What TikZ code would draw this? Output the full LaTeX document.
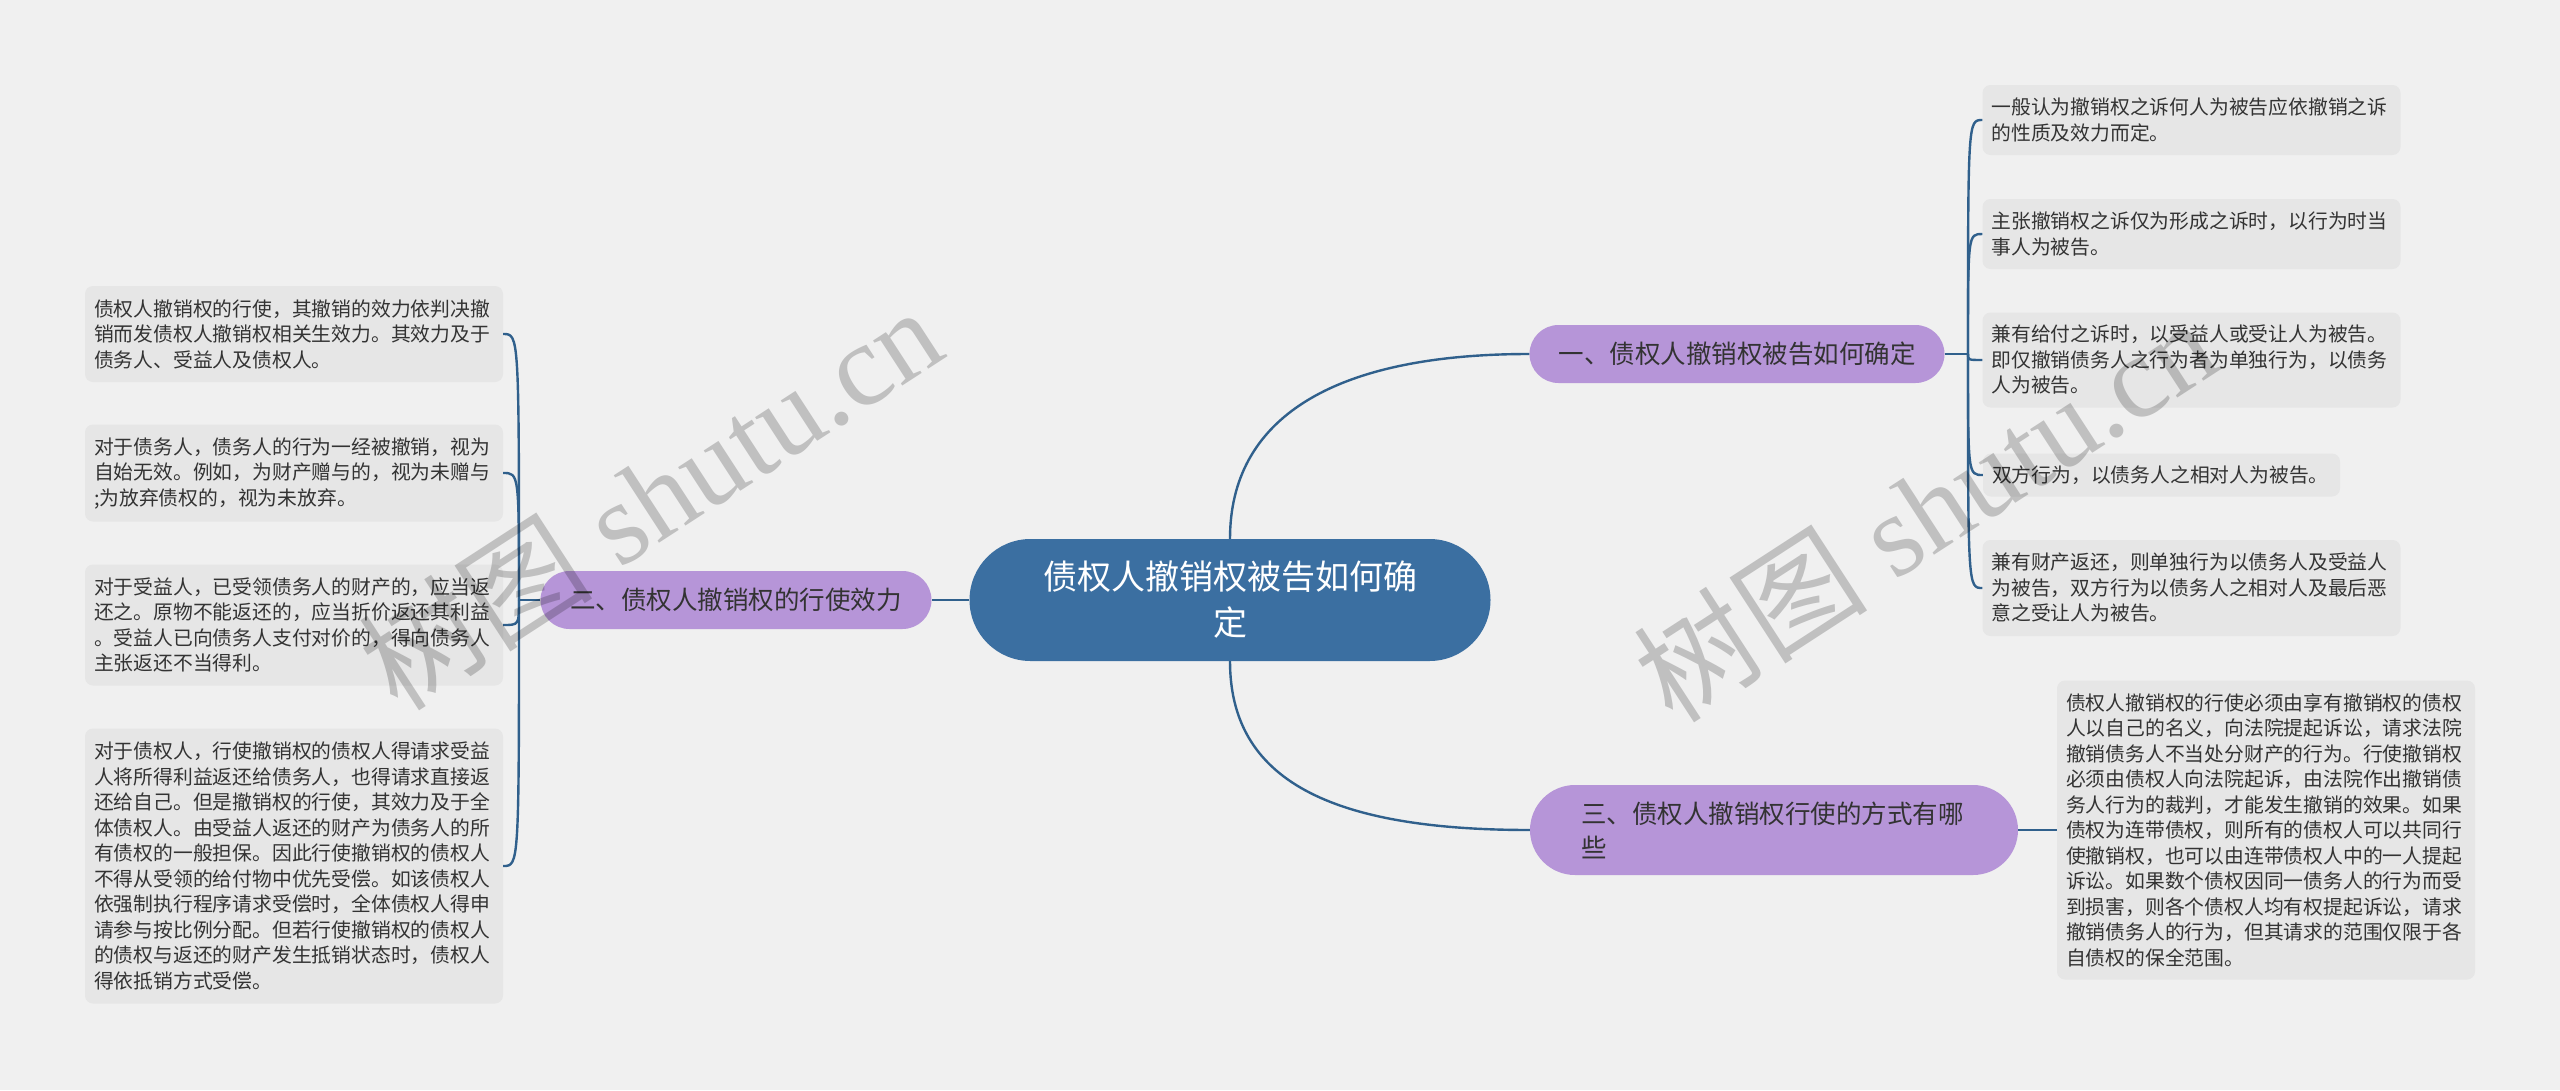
\documentclass[tikz,border=0pt]{standalone}
\usepackage{fontspec}
\newfontfamily\cjk{Noto Sans CJK SC}
\newfontfamily\wmserif{Liberation Serif}
\usetikzlibrary{calc}
\definecolor{bgc}{HTML}{F0F0F0}
\definecolor{rootc}{HTML}{3B6FA1}
\definecolor{branchc}{HTML}{B695D8}
\definecolor{leafc}{HTML}{E6E6E6}
\definecolor{linec}{HTML}{30608C}
\definecolor{txtc}{HTML}{333333}
\tikzset{
  rootbox/.style={fill=rootc, rounded corners=61pt, minimum width=521pt, minimum height=122pt,
    inner sep=0pt, align=center, text=white, font=\cjk\fontsize{34}{46}\selectfont},
  branchbox/.style={fill=branchc, inner sep=0pt, text=txtc, font=\cjk\fontsize{25.5}{34}\selectfont},
  leafbox/.style={fill=leafc, rounded corners=8pt, text width=400pt, align=left, inner xsep=9pt,
    inner ysep=0pt, text=txtc, font=\cjk\fontsize{19.8}{25.5}\selectfont},
  conn/.style={draw=linec, line width=2.4pt},
  wm/.style={text=black, text opacity=0.2, inner sep=0pt, font=\wmserif\fontsize{117}{120}\selectfont}
}
\begin{document}
\begin{tikzpicture}[x=1pt,y=-1pt]
\fill[bgc] (0,0) rectangle (2560,1090);
\useasboundingbox (0,0) rectangle (2560,1090);

% root and branches
\node[rootbox] (root) at (1230,600) {债权人撤销权被告如何确\\定};
\node[branchbox, rounded corners=29pt, minimum width=415pt, minimum height=58pt] (b1) at (1737,354) {一、债权人撤销权被告如何确定};
\node[branchbox, rounded corners=29pt, minimum width=391pt, minimum height=58pt] (b2) at (736,600) {二、债权人撤销权的行使效力};
\node[branchbox, rounded corners=45pt, minimum width=488pt, minimum height=90pt, text width=386pt, align=left] (b3) at (1774,830) {三、债权人撤销权行使的方式有哪\\些};

% right leaves of branch 1
\node[leafbox, minimum height=70pt] (l1) at (2191.5,120) {一般认为撤销权之诉何人为被告应依撤销之诉\\的性质及效力而定。};
\node[leafbox, minimum height=70pt] (l2) at (2191.5,234) {主张撤销权之诉仅为形成之诉时，以行为时当\\事人为被告。};
\node[leafbox, minimum height=95pt] (l3) at (2191.5,360) {兼有给付之诉时，以受益人或受让人为被告。\\即仅撤销债务人之行为者为单独行为，以债务\\人为被告。};
\node[leafbox, text width=339pt, minimum height=43pt] (l4) at (2161.5,475) {双方行为，以债务人之相对人为被告。};
\node[leafbox, minimum height=96pt] (l5) at (2191.5,588) {兼有财产返还，则单独行为以债务人及受益人\\为被告，双方行为以债务人之相对人及最后恶\\意之受让人为被告。};

% leaf of branch 3
\node[leafbox, minimum height=299pt] (l6) at (2266,830) {债权人撤销权的行使必须由享有撤销权的债权\\人以自己的名义，向法院提起诉讼，请求法院\\撤销债务人不当处分财产的行为。行使撤销权\\必须由债权人向法院起诉，由法院作出撤销债\\务人行为的裁判，才能发生撤销的效果。如果\\债权为连带债权，则所有的债权人可以共同行\\使撤销权，也可以由连带债权人中的一人提起\\诉讼。如果数个债权因同一债务人的行为而受\\到损害，则各个债权人均有权提起诉讼，请求\\撤销债务人的行为，但其请求的范围仅限于各\\自债权的保全范围。};

% left leaves of branch 2
\node[leafbox, minimum height=96pt] (ll1) at (294,334) {债权人撤销权的行使，其撤销的效力依判决撤\\销而发债权人撤销权相关生效力。其效力及于\\债务人、受益人及债权人。};
\node[leafbox, minimum height=97pt] (ll2) at (294,473) {对于债务人，债务人的行为一经被撤销，视为\\自始无效。例如，为财产赠与的，视为未赠与\\;为放弃债权的，视为未放弃。};
\node[leafbox, minimum height=121pt] (ll3) at (294,625) {对于受益人，已受领债务人的财产的，应当返\\还之。原物不能返还的，应当折价返还其利益\\。受益人已向债务人支付对价的，得向债务人\\主张返还不当得利。};
\node[leafbox, minimum height=275pt] (ll4) at (294,866) {对于债权人，行使撤销权的债权人得请求受益\\人将所得利益返还给债务人，也得请求直接返\\还给自己。但是撤销权的行使，其效力及于全\\体债权人。由受益人返还的财产为债务人的所\\有债权的一般担保。因此行使撤销权的债权人\\不得从受领的给付物中优先受偿。如该债权人\\依强制执行程序请求受偿时，全体债权人得申\\请参与按比例分配。但若行使撤销权的债权人\\的债权与返还的财产发生抵销状态时，债权人\\得依抵销方式受偿。};

% connectors
\coordinate (t1) at (1968,354);
\coordinate (t2) at (519,600);
\draw[conn] (root.north) .. controls (1230,420) and (1330,354) .. (b1.west);
\draw[conn] (root.south) .. controls (1230,780) and (1330,830) .. (b3.west);
\draw[conn] (root.west) -- (b2.east);
\draw[conn] (b1.east) -- (t1);
\foreach \l in {l1,l2,l3,l4,l5}{
  \draw[conn] (t1) .. controls (t1 |- \l.west) .. (\l.west);
}
\draw[conn] (b2.west) -- (t2);
\foreach \l in {ll1,ll2,ll3,ll4}{
  \draw[conn] (t2) .. controls (t2 |- \l.east) .. (\l.east);
}
\draw[conn] (b3.east) -- (l6.west);

% watermarks
\node[wm, rotate=33] (wm1) at (650,497) {{\cjk 树图} shutu.cn};
\node[wm, rotate=33] (wm2) at (1925,509) {{\cjk 树图} shutu.cn};
\end{tikzpicture}
\end{document}
